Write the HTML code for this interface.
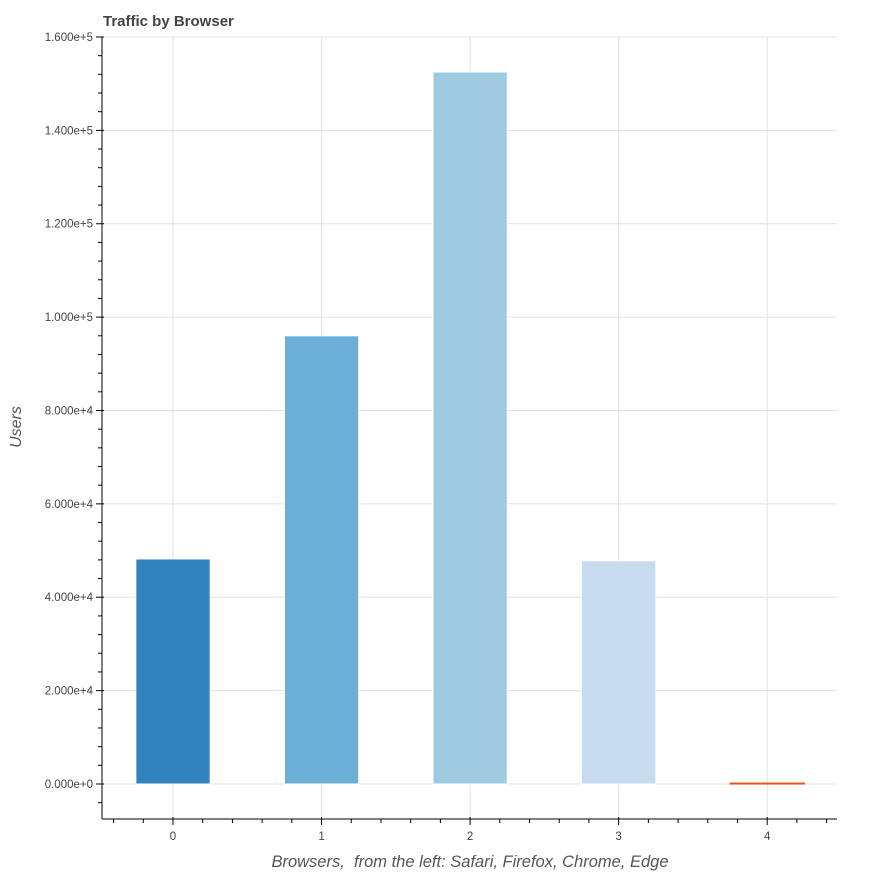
<!DOCTYPE html>
<html><head><meta charset="utf-8"><style>
body{margin:0;background:#fff;}
svg{display:block;font-family:"Liberation Sans",Helvetica,Arial,sans-serif;}
</style></head><body>
<svg id="chart" width="875" height="875" viewBox="0 0 875 875" xmlns="http://www.w3.org/2000/svg">
<text x="103" y="26" font-size="15" font-weight="bold" fill="#444">Traffic by Browser</text>
<g id="grid"></g><g id="bars"></g><g id="axes"></g>
<text x="470" y="867" font-size="16.5" font-style="italic" fill="#555" text-anchor="middle" style="white-space:pre">Browsers,  from the left: Safari, Firefox, Chrome, Edge</text>
<text transform="translate(21,427) rotate(-90)" font-size="16" font-style="italic" fill="#555" text-anchor="middle">Users</text>
</svg>
<script>
const categories=[0,1,2,3,4];
const values=[48200,96000,152500,47800,200];
const colors=["#3182bd","#6baed6","#9ecae1","#c6dbef","#e6550d"];
const yTicks=[0,20000,40000,60000,80000,100000,120000,140000,160000];
const yTickLabels=["0.000e+0","2.000e+4","4.000e+4","6.000e+4","8.000e+4","1.000e+5","1.200e+5","1.400e+5","1.600e+5"];
const L=102,R=837,T=37,B=819;
const xmin=-0.478,xmax=4.47,ymin=-7500,ymax=160000;
const X=v=>L+(v-xmin)/(xmax-xmin)*(R-L);
const Y=v=>B-(v-ymin)/(ymax-ymin)*(B-T);
const NS="http://www.w3.org/2000/svg";
function mk(p,t,a){const e=document.createElementNS(NS,t);for(const k in a)e.setAttribute(k,a[k]);p.appendChild(e);return e;}
const grid=document.getElementById('grid'),bars=document.getElementById('bars'),axes=document.getElementById('axes');
yTicks.forEach((v,i)=>{
 const g=mk(grid,'line',{x1:L,x2:R,y1:Y(v),y2:Y(v),stroke:'#e0e0e0','stroke-width':1});
 
 
 const t=mk(axes,'line',{x1:L-6,x2:L+2,y1:Y(v),y2:Y(v),stroke:'#000','stroke-width':1});
 
 
 const tx=mk(axes,'text',{x:L-9,y:Y(v)+4,'font-size':11.5,fill:'#444','text-anchor':'end'});
 tx.textContent=yTickLabels[i];
 
 
});
for(let v=-4000;v<=ymax;v+=4000){if(v%20000===0)continue;
 const m=mk(axes,'line',{x1:L-4,x2:L,y1:Y(v),y2:Y(v),stroke:'#000','stroke-width':1});
 
 }
categories.forEach((c,i)=>{
 const g=mk(grid,'line',{x1:X(c),x2:X(c),y1:T,y2:B,stroke:'#e0e0e0','stroke-width':1});
 
 
 const b=mk(bars,'rect',{x:X(c-0.25),y:Y(values[i]),width:X(c+0.25)-X(c-0.25),height:Math.max(1,Y(0)-Y(values[i])),fill:colors[i],stroke:i===4?colors[i]:'#fff','stroke-width':1});
 
 
 const t=mk(axes,'line',{x1:X(c),x2:X(c),y1:B-2,y2:B+6,stroke:'#000','stroke-width':1});
 
 
 const tx=mk(axes,'text',{x:X(c),y:B+21,'font-size':11.5,fill:'#444','text-anchor':'middle'});
 tx.textContent=String(c);
 
 
});
for(let k=-2;k<=22;k++){const v=k*0.2;if(k%5===0||v<xmin||v>xmax)continue;
 const m=mk(axes,'line',{x1:X(v),x2:X(v),y1:B,y2:B+4,stroke:'#000','stroke-width':1});
 
 }
const ya=mk(axes,'line',{x1:L,x2:L,y1:T,y2:B,stroke:'#000','stroke-width':1});


const xa=mk(axes,'line',{x1:L,x2:R,y1:B,y2:B,stroke:'#000','stroke-width':1});


</script>
</body></html>
